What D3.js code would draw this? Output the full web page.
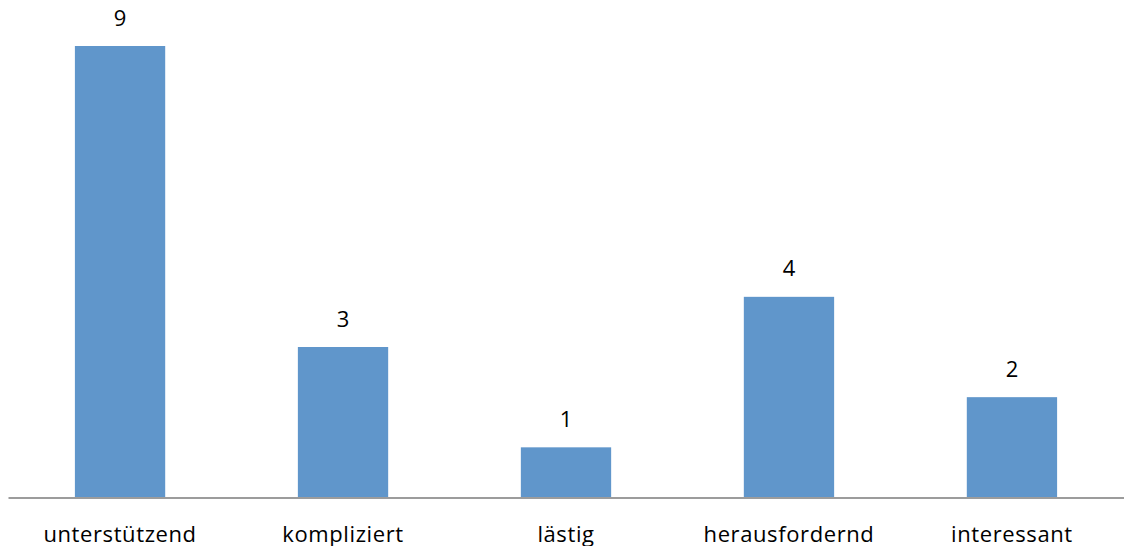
<!DOCTYPE html>
<html>
<head>
<meta charset="utf-8">
<script src="https://cdn.jsdelivr.net/npm/d3@7"></script>
<style>
  html, body { margin: 0; padding: 0; background: #fff; }
  svg text { font-family: "Open Sans", "DejaVu Sans", sans-serif; fill: #000; }
</style>
</head>
<body>
<svg id="chart" width="1124" height="546"></svg>
<script>
// Category labels and counts
const categories = ["unterstützend", "kompliziert", "lästig", "herausfordernd", "interessant"];
const counts = [9, 3, 1, 4, 2];

const svg = d3.select("#chart");
const margin = { left: 8, right: 0, top: 46, bottom: 48.5 };
const width = 1124, height = 546;
const baseY = height - margin.bottom;

const x = d3.scaleBand()
  .domain(categories)
  .range([margin.left, width - margin.right])
  .paddingInner(0.595)
  .paddingOuter(0.3);

const y = d3.scaleLinear()
  .domain([0, 9])
  .range([baseY, margin.top]);

const data = categories.map((c, i) => ({ cat: c, val: counts[i] }));

// bars
svg.append("g").selectAll("rect")
  .data(data)
  .join("rect")
  .attr("x", d => x(d.cat))
  .attr("y", d => y(d.val))
  .attr("width", x.bandwidth())
  .attr("height", d => y(0) - y(d.val))
  .attr("fill", "#6096CB");

// value labels
svg.append("g").selectAll("text")
  .data(data)
  .join("text")
  .attr("x", d => x(d.cat) + x.bandwidth() / 2)
  .attr("y", d => y(d.val) - 20.5)
  .attr("text-anchor", "middle")
  .style("font-size", "22px")
  .text(d => d.val);

// category axis
const axis = d3.axisBottom(x).tickSize(0).tickPadding(0);
const gx = svg.append("g")
  .attr("transform", `translate(0,${baseY})`)
  .call(axis);
gx.select(".domain").attr("stroke", "#9c9c9c").attr("stroke-width", 2);
gx.selectAll(".tick text")
  .attr("dy", null)
  .attr("y", 44)
  .style("font-size", "22px")
  .style("letter-spacing", "0.6px")
  .style("font-family", "'Open Sans', 'DejaVu Sans', sans-serif")
  .attr("fill", "#000");
</script>
</body>
</html>
